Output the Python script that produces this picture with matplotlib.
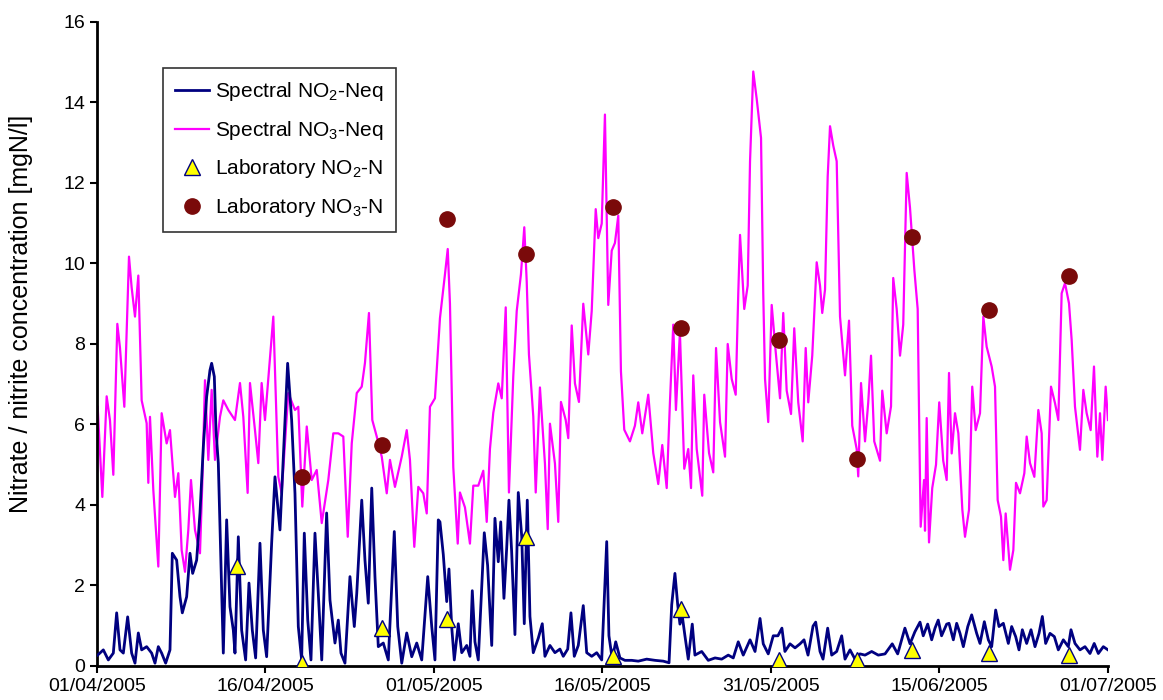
import numpy as np
import matplotlib
matplotlib.use('Agg')
import matplotlib.pyplot as plt

# days since 01/04/2005 and concentrations [mgN/l]
no3_days = [0.06, 0.48, 0.87, 1.17, 1.47, 1.83, 2.07, 2.46, 2.88, 3.12, 3.42, 3.72, 4.02, 4.47, 4.62, 4.77,
            5.07, 5.52, 5.82, 6.27, 6.57, 7.02, 7.32, 7.62, 7.92, 8.22, 8.46, 8.82, 9.27, 9.48, 9.72, 10.02,
            10.32, 10.62, 11.07, 11.37, 11.82, 12.42, 12.87, 13.17, 13.56, 13.77, 14.22, 14.52, 14.82, 15.12,
            15.87, 16.32, 16.62, 17.22, 17.82, 18.12, 18.48, 18.88, 19.33, 19.78, 20.23, 20.82, 21.27, 21.72,
            22.17, 22.57, 22.93, 23.38, 23.83, 24.12, 24.48, 24.78, 25.18, 25.63, 26.08, 26.37, 26.82, 27.43,
            27.88, 28.17, 28.56, 28.92, 29.37, 29.68, 29.97, 30.42, 30.87, 31.32, 31.57, 31.77, 32.07, 32.47,
            32.67, 33.12, 33.57, 33.87, 34.32, 34.77, 35.08, 35.37, 35.67, 36.12, 36.43, 36.79, 37.08, 37.47,
            37.78, 38.16, 38.46, 38.68, 38.88, 39.27, 39.49, 39.87, 40.32, 40.57, 40.77, 41.22, 41.52, 41.76,
            42.19, 42.42, 42.73, 43.02, 43.38, 43.77, 44.22, 44.53, 44.89, 45.12, 45.43, 45.72, 46.02, 46.33,
            46.62, 46.92, 47.16, 47.46, 47.97, 48.42, 48.72, 49.08, 49.62, 50.07, 50.52, 50.88, 51.28, 51.57,
            51.87, 52.11, 52.47, 52.86, 53.22, 53.47, 53.67, 53.98, 54.48, 54.66, 55.09, 55.47, 55.72, 56.08,
            56.53, 56.77, 57.13, 57.49, 57.72, 57.88, 58.26, 58.57, 58.78, 59.07, 59.38, 59.77, 59.97, 60.13,
            60.42, 60.73, 61.09, 61.48, 61.77, 62.08, 62.47, 62.76, 63.12, 63.52, 63.79, 64.02, 64.38, 64.78,
            65.08, 65.28, 65.53, 65.77, 65.98, 66.27, 66.58, 66.88, 67.12, 67.33, 67.69, 67.98, 68.38, 68.52,
            68.77, 69.13, 69.42, 69.67, 69.96, 70.48, 70.68, 71.08, 71.47, 71.67, 71.98, 72.28, 72.57, 72.88,
            73.18, 73.57, 73.87, 73.99, 74.14, 74.44, 74.53, 74.68, 74.89, 75.18, 75.52, 75.81, 76.17, 76.48,
            76.69, 76.93, 77.23, 77.53, 77.89, 78.13, 78.49, 78.78, 79.09, 79.48, 79.78, 80.08, 80.53, 80.83,
            81.07, 81.37, 81.58, 81.79, 82.18, 82.48, 82.72, 83.08, 83.47, 83.68, 83.98, 84.37, 84.73, 85.03,
            85.18, 85.48, 85.87, 86.23, 86.53, 86.83, 87.13, 87.49, 87.73, 88.03, 88.48, 88.78, 89.08, 89.44,
            89.74, 90.04, 90.28, 90.49, 90.79, 91.0]
no3_vals = [6.44, 4.2, 6.7, 6.1, 4.75, 8.5, 7.9, 6.44, 10.17, 9.4, 8.68, 9.7, 6.6, 6.03, 4.55, 6.19,
            4.37, 2.47, 6.28, 5.53, 5.86, 4.2, 4.79, 2.88, 2.34, 3.38, 4.62, 3.38, 2.8, 4.55, 7.1, 5.12,
            6.86, 5.12, 6.19, 6.6, 6.36, 6.11, 7.03, 6.19, 4.3, 7.03, 5.86, 5.04, 7.03, 6.11,
            8.68, 4.7, 4.29, 6.78, 6.36, 6.44, 3.96, 5.95, 4.62, 4.87, 3.55, 4.62, 5.78, 5.78,
            5.7, 3.21, 5.53, 6.78, 6.94, 7.53, 8.77, 6.11, 5.7, 5.2, 4.29, 5.12, 4.45, 5.2,
            5.86, 5.12, 2.96, 4.45, 4.29, 3.79, 6.44, 6.65, 8.64, 9.73, 10.36, 9.0, 4.94, 3.04,
            4.31, 3.94, 3.04, 4.48, 4.48, 4.85, 3.58, 5.39, 6.29, 7.02, 6.65, 8.91, 4.31, 7.2,
            8.82, 9.73, 10.9, 9.55, 7.74, 6.2, 4.31, 6.92, 5.03, 3.4, 6.02, 5.03, 3.58, 6.56,
            6.11, 5.66, 8.46, 7.02, 6.56, 9.0, 7.74, 8.82, 11.35, 10.63, 10.99, 13.7, 8.97, 10.32,
            10.51, 11.19, 7.32, 5.87, 5.58, 5.97, 6.55, 5.78, 6.74, 5.29, 4.52, 5.49, 4.42, 6.55,
            8.48, 6.36, 8.29, 4.9, 5.39, 4.42, 7.22, 5.39, 4.23, 6.74, 5.29, 4.81, 7.9, 6.06,
            5.2, 8.0, 7.13, 6.74, 9.25, 10.71, 8.87, 9.45, 12.54, 14.77, 14.09, 13.12, 9.25, 7.13,
            6.06, 8.97, 7.81, 6.65, 8.77, 6.84, 6.26, 8.39, 6.55, 5.58, 7.9, 6.55, 7.71, 10.03,
            9.45, 8.77, 9.35, 12.16, 13.41, 12.93, 12.54, 8.68, 7.9, 7.22, 8.58, 5.97, 5.39, 4.71,
            7.03, 5.58, 6.55, 7.71, 5.58, 5.1, 6.84, 5.78, 6.45, 9.64, 8.87, 7.71, 8.48, 12.25,
            11.38, 9.84, 8.87, 6.36, 3.46, 4.62, 3.36, 6.16, 3.07, 4.42, 5.0, 6.55, 5.1, 4.62,
            7.28, 5.28, 6.28, 5.78, 3.88, 3.21, 3.88, 6.94, 5.86, 6.28, 8.68, 7.93, 7.44, 6.94,
            4.12, 3.71, 2.63, 3.79, 2.39, 2.88, 4.55, 4.29, 4.79, 5.7, 5.04, 4.7, 6.36, 5.78,
            3.96, 4.12, 6.94, 6.53, 6.11, 9.26, 9.51, 9.01, 8.1, 6.44, 5.37, 6.86, 6.28, 5.86,
            7.44, 5.2, 6.28, 5.12, 6.94, 6.11]

no2_days = [0.06, 0.57, 1.02, 1.47, 1.77, 2.07, 2.37, 2.76, 3.12, 3.42, 3.72, 4.02, 4.47, 4.92, 5.22, 5.52,
            5.82, 6.18, 6.57, 6.78, 7.17, 7.47, 7.68, 8.07, 8.37, 8.61, 8.97, 9.27, 9.57, 9.87, 10.17, 10.32,
            10.56, 10.71, 10.92, 11.16, 11.37, 11.67, 11.97, 12.27, 12.42, 12.72, 13.02, 13.38, 13.68, 13.98,
            14.28, 14.67, 14.97, 15.27, 15.72, 16.02, 16.47, 16.92, 17.16, 17.52, 17.82, 18.12, 18.42, 18.66,
            18.97, 19.26, 19.62, 19.92, 20.23, 20.67, 20.97, 21.42, 21.72, 21.96, 22.32, 22.77, 23.16, 23.38,
            23.83, 24.12, 24.42, 24.73, 25.02, 25.32, 25.77, 26.22, 26.76, 27.07, 27.43, 27.88, 28.33, 28.78,
            29.23, 29.77, 30.13, 30.42, 30.72, 30.87, 31.17, 31.48, 31.68, 31.93, 32.16, 32.52, 32.83, 33.28,
            33.57, 33.78, 34.02, 34.32, 34.86, 35.16, 35.53, 35.82, 36.12, 36.34, 36.63, 36.88, 37.08, 37.32,
            37.62, 37.92, 38.23, 38.46, 38.73, 38.97, 39.27, 39.72, 40.08, 40.32, 40.77, 41.22, 41.67, 41.97,
            42.37, 42.66, 42.96, 43.32, 43.77, 44.08, 44.53, 44.98, 45.43, 45.88, 46.08, 46.38, 46.69, 47.07,
            47.52, 48.13, 48.72, 49.48, 50.23, 50.97, 51.49, 51.73, 52.02, 52.27, 52.47, 52.68, 52.92, 53.22,
            53.58, 53.82, 54.43, 55.02, 55.63, 56.23, 56.82, 57.27, 57.72, 58.17, 58.78, 59.23, 59.68, 59.97,
            60.42, 60.87, 61.29, 61.65, 61.92, 62.38, 62.83, 63.28, 63.64, 64.0, 64.45, 64.69, 65.08, 65.35,
            65.77, 66.13, 66.58, 67.03, 67.33, 67.78, 68.23, 68.68, 69.13, 69.73, 70.32, 70.93, 71.58, 72.07,
            72.72, 73.18, 73.62, 74.08, 74.37, 74.77, 75.13, 75.43, 75.72, 76.02, 76.48, 76.69, 77.08, 77.38,
            77.68, 77.98, 78.38, 78.73, 79.18, 79.48, 79.87, 80.23, 80.53, 80.89, 81.19, 81.58, 82.03, 82.33,
            82.69, 82.99, 83.29, 83.68, 84.07, 84.43, 84.79, 85.09, 85.39, 85.78, 86.17, 86.53, 86.98, 87.43,
            87.67, 88.03, 88.48, 88.93, 89.38, 89.76, 90.13, 90.58, 91.0]
no2_vals = [0.27, 0.4, 0.15, 0.32, 1.32, 0.4, 0.32, 1.22, 0.32, 0.07, 0.82, 0.4, 0.48, 0.32, 0.07, 0.48,
            0.32, 0.07, 0.4, 2.8, 2.63, 1.72, 1.32, 1.72, 2.8, 2.3, 2.63, 3.8, 5.45, 6.69, 7.35, 7.52,
            7.19, 5.86, 5.04, 2.55, 0.32, 3.63, 1.47, 0.89, 0.32, 3.21, 0.89, 0.15, 2.06, 0.89,
            0.2, 3.05, 0.89, 0.23, 3.05, 4.7, 3.38, 6.11, 7.52, 6.11, 4.29, 0.98, 0.15, 3.3,
            1.14, 0.15, 3.3, 1.8, 0.15, 3.8, 1.64, 0.57, 1.14, 0.32, 0.07, 2.22, 0.98, 1.8,
            4.12, 2.63, 1.56, 4.42, 2.22, 0.48, 0.57, 0.15, 3.34, 0.98, 0.07, 0.82, 0.23, 0.57,
            0.15, 2.22, 0.98, 0.15, 3.63, 3.58, 2.77, 1.6, 2.41, 0.96, 0.15, 1.05, 0.33, 0.51,
            0.24, 1.87, 0.6, 0.15, 3.31, 2.5, 0.51, 3.67, 2.59, 3.58, 1.68, 2.95, 4.12, 2.86,
            0.78, 4.31, 3.22, 1.05, 4.12, 1.23, 0.33, 0.69, 1.05, 0.24, 0.51, 0.33, 0.42, 0.24,
            0.42, 1.32, 0.24, 0.51, 1.5, 0.33, 0.24, 0.33, 0.15, 3.09, 0.75, 0.17, 0.6, 0.2,
            0.14, 0.14, 0.12, 0.17, 0.14, 0.12, 0.08, 1.52, 2.3, 1.52, 1.04, 1.24, 0.75, 0.17,
            1.04, 0.27, 0.36, 0.14, 0.2, 0.17, 0.27, 0.2, 0.6, 0.27, 0.65, 0.36, 1.18, 0.55,
            0.3, 0.75, 0.75, 0.94, 0.36, 0.55, 0.45, 0.55, 0.65, 0.27, 0.99, 1.09, 0.36, 0.17,
            0.94, 0.27, 0.36, 0.75, 0.17, 0.4, 0.17, 0.3, 0.27, 0.36, 0.27, 0.3, 0.55, 0.3,
            0.94, 0.55, 0.85, 1.09, 0.75, 1.04, 0.65, 0.94, 1.14, 0.75, 1.04, 1.06, 0.65, 1.06,
            0.81, 0.48, 0.98, 1.27, 0.81, 0.56, 1.1, 0.65, 0.48, 1.39, 0.98, 1.06, 0.56, 0.98,
            0.73, 0.4, 0.9, 0.56, 0.9, 0.48, 0.81, 1.23, 0.56, 0.81, 0.73, 0.4, 0.65, 0.48,
            0.9, 0.56, 0.4, 0.48, 0.31, 0.56, 0.31, 0.48, 0.4]

# laboratory samples
lab_days = [12.6, 18.45, 25.65, 31.5, 38.6, 46.45, 52.57, 61.4, 68.4, 73.36, 80.3, 87.5]
lab_no2 = [2.48, 0.08, 0.95, 1.17, 3.2, 0.25, 1.42, 0.15, 0.15, 0.4, 0.32, 0.27]
lab_no3_days = [18.45, 25.65, 31.5, 38.6, 46.45, 52.57, 61.4, 68.4, 73.36, 80.3, 87.5]
lab_no3 = [4.7, 5.5, 11.1, 10.24, 11.4, 8.4, 8.1, 5.14, 10.66, 8.84, 9.7]

tick_labels = ['01/04/2005', '16/04/2005', '01/05/2005', '16/05/2005',
               '31/05/2005', '15/06/2005', '01/07/2005']

plt.rcParams['font.family'] = 'Liberation Sans'
plt.rcParams['mathtext.fontset'] = 'custom'
plt.rcParams['mathtext.rm'] = 'Liberation Sans'
plt.rcParams['mathtext.default'] = 'regular'

fig = plt.figure(figsize=(11.63, 7.0), dpi=100)
ax = fig.add_axes([0.0834, 0.0486, 0.8693, 0.92])

ax.plot(no2_days, no2_vals, color='#000080', lw=2.0, label='Spectral NO$_2$-Neq', zorder=3)
ax.plot(no3_days, no3_vals, color='#FF00FF', lw=1.6, label='Spectral NO$_3$-Neq', zorder=2)

ax.plot(lab_days, lab_no2, linestyle='none', marker='^', ms=11, mfc='#FFFF00', mec='#000080',
        mew=1.0, label='Laboratory NO$_2$-N', zorder=5)
ax.plot(lab_no3_days, lab_no3, linestyle='none', marker='o', ms=11, mfc='#7A0A0A', mec='#7A0A0A',
        label='Laboratory NO$_3$-N', zorder=5)

ax.set_xlim(0, 91)
ax.set_ylim(0, 16)
ax.set_xticks(np.linspace(0, 91, 7))
ax.set_xticklabels(tick_labels)
ax.set_yticks(range(0, 17, 2))
ax.tick_params(axis='both', labelsize=14, width=1.5, length=5, direction='out', color='black')
ax.tick_params(axis='x', pad=4)
for s in ['top', 'right']:
    ax.spines[s].set_visible(False)
for s in ['left', 'bottom']:
    ax.spines[s].set_linewidth(2)
ax.set_ylabel('Nitrate / nitrite concentration [mgN/l]', fontsize=18)
ax.yaxis.set_label_coords(-0.063, 0.547)

leg = ax.legend(loc='upper left', bbox_to_anchor=(0.065, 0.929), fontsize=15, frameon=True,
                fancybox=False, edgecolor='black', handlelength=1.6, labelspacing=0.75,
                borderpad=0.6, handletextpad=0.3, borderaxespad=0)
leg.get_frame().set_linewidth(1.2)

plt.savefig('out.png', dpi=100)
